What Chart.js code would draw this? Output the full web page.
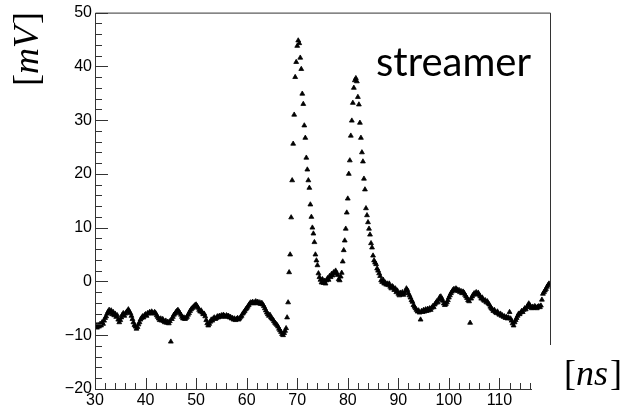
<!DOCTYPE html>
<html>
<head>
<meta charset="utf-8">
<script src="https://cdn.jsdelivr.net/npm/chart.js@4/dist/chart.umd.min.js"></script>
<style>
  html, body { margin: 0; padding: 0; background: #fff; }
  #wrap { width: 624px; height: 411px; position: relative; }
</style>
</head>
<body>
<div id="wrap"><canvas id="myChart" width="624" height="411"></canvas></div>
<script>
const startNs = 30;
const stepNs = 0.2;

const mvBaseline = [
    -7.8, -8.3, -8.6, -8.1, -8.4, -7.9, -8.2, -7.6, -7.9, -7.3,
    -6.8, -6.5, -6.0, -5.6, -5.3, -5.8, -5.4, -6.1, -5.7, -6.3,
    -6.0, -6.6, -6.3, -7.1, -7.6, -7.2, -6.7, -6.2, -5.9, -6.4,
    -6.0, -5.7, -5.5, -5.2, -5.6, -5.9, -6.4, -7.0, -7.6, -8.1,
    -8.4, -8.8, -8.5, -8.0, -7.6, -7.1, -6.8, -6.5, -6.7, -6.3,
    -6.1, -6.4, -5.9, -6.0, -5.7, -5.9, -5.6, -5.8, -6.0, -5.7,
    -5.9, -6.3, -6.6, -6.9, -7.2, -6.9, -7.3, -7.0, -7.4, -7.6,
    -7.3, -7.7, -7.5, -7.8, -7.4, -11.2, -7.0, -6.6, -6.2, -6.0,
    -5.7, -5.5, -5.3, -5.6, -5.9, -6.2, -6.6, -6.9, -6.7, -7.0,
    -6.8, -6.6, -6.2, -5.9, -5.5, -5.2, -5.0, -4.8, -4.6, -4.4,
    -4.3, -4.6, -4.9, -5.3, -5.6, -5.4, -5.8, -6.1, -6.0, -6.5,
    -7.2, -7.8, -8.2, -7.9, -7.5, -7.1, -7.3, -6.9, -6.7, -7.0,
    -6.8, -6.5, -6.7, -6.4, -6.6, -6.3, -6.5, -6.2, -6.4, -6.6,
    -6.3, -6.5, -6.4, -6.7, -6.6, -6.9, -6.8, -7.1, -6.9, -7.2,
    -7.0, -6.8, -7.1, -6.9, -6.6, -6.4, -6.0, -5.8, -5.5, -5.2,
    -5.0, -4.7, -4.4, -4.1, -3.9, -4.0, -3.8, -4.1, -3.9, -3.7,
    -4.0, -3.8, -4.1, -3.9, -4.2, -4.0, -4.3, -4.6, -5.0, -5.4,
    -5.8, -6.1, -6.4, -6.2, -6.7, -6.9, -7.1, -7.4, -7.7, -7.9,
    -8.1, -8.4, -8.8, -9.1, -9.4, -9.8, -10.0, -9.6, -9.2, -8.7
];

const mvFirstPeak = [
    -6.7, -3.9, 1.7, 5.0, 11.9, 18.8, 25.6, 31.0, 38.0, 40.8,
    43.8, 44.8, 44.3, 41.6, 39.5, 34.9, 33.0, 29.0, 26.7, 23.0,
    20.8, 18.8, 17.4, 14.3, 12.0, 10.0, 8.9, 7.3, 5.0, 3.9,
    3.0, 1.5, 0.8, 0.3, -0.2, 0.4, -0.3, 0.1, -0.4, 0.2
];

const mvSecondPeak = [
    0.6, 0.3, 1.0, 0.8, 1.4, 1.1, 1.7, 1.5, 2.0, 1.6,
    1.2, 0.4, 0.2, 0.9, 1.6, 3.7, 5.8, 7.6, 9.8, 12.8,
    15.4, 20.0, 22.5, 27.1, 29.9, 33.2, 36.0, 37.4, 37.8, 37.2,
    34.3, 32.9, 29.5, 26.7, 24.0, 22.3, 19.1, 17.1, 13.6, 12.3,
    11.0, 9.8, 8.7, 7.1, 6.3, 4.8, 3.9, 3.5, 3.2, 2.4,
    2.0, 1.5, 1.0, 0.2, -0.1, 0.3, -0.4, -0.2, -0.6, -0.4
];

const mvTail = [
    -0.7, -0.4, -1.0, -1.3, -0.9, -1.1, -1.6, -1.3, -2.0, -1.7,
    -2.3, -2.6, -2.1, -2.4, -2.0, -2.5, -2.2, -1.8, -1.3, -1.6,
    -2.2, -2.6, -3.0, -3.5, -3.8, -4.4, -4.7, -5.0, -5.3, -5.6,
    -5.4, -5.8, -7.1, -5.5, -5.7, -5.3, -5.6, -5.2, -5.5, -5.1,
    -5.4, -5.0, -5.3, -4.9, -4.6, -4.8, -4.3, -4.0, -3.7, -3.9,
    -3.4, -2.9, -2.8, -3.2, -3.6, -4.1, -4.4, -4.2, -3.9, -3.5,
    -3.0, -2.6, -2.2, -1.9, -1.6, -1.4, -1.7, -1.3, -1.5, -1.8,
    -1.6, -2.0, -1.8, -2.2, -1.9, -2.1, -2.5, -2.8, -3.1, -3.5,
    -3.7, -7.7, -3.2, -2.8, -2.5, -2.2, -2.4, -2.0, -2.3, -2.1,
    -2.5, -2.8, -3.2, -3.0, -3.4, -3.6, -3.5, -3.9, -3.7, -4.1,
    -4.3, -4.7, -5.0, -5.2, -5.5, -5.3, -5.7, -5.9, -5.6, -6.0,
    -6.2, -6.0, -6.4, -6.3, -6.6, -6.5, -6.8, -6.6, -6.9, -6.7,
    -5.7, -6.9, -7.3, -7.8, -8.2, -7.6, -7.2, -6.8, -6.4, -6.0,
    -6.1, -5.8, -5.5, -5.7, -5.3, -5.0, -5.2, -4.8, -4.5, -4.1,
    -4.4, -4.8, -5.0, -4.7, -4.9, -4.6, -4.8, -5.0, -4.7, -4.6,
    -4.8, -4.5, -3.4, -2.3, -2.0, -1.7, -1.4, -1.0, -0.7, -0.4
];

const xTickLabels = [30, 40, 50, 60, 70, 80, 90, 100, 110];
const yTickLabels = [-20, -10, 0, 10, 20, 30, 40, 50];

const mvAll = mvBaseline.concat(mvFirstPeak, mvSecondPeak, mvTail);
const points = mvAll.map((v, i) => ({ x: +(startNs + i * stepNs).toFixed(1), y: v }));

const tickFont = { family: "'Liberation Sans', Arial, sans-serif", size: 16 };

function minusSign(v) {
    return v < 0 ? '\u2212' + Math.abs(v) : String(v);
}

// ROOT style frame: ticks pointing inward, plus the pasted unit labels
const rootFrame = {
    id: 'rootFrame',
    afterDraw(chart) {
        const ctx = chart.ctx;
        const xs = chart.scales.x;
        const ys = chart.scales.y;
        const a = chart.chartArea;
        const cutX = 532, cutY = 345;

        ctx.save();
        ctx.strokeStyle = '#333';
        ctx.lineWidth = 1;
        ctx.beginPath();
        ctx.moveTo(a.left + 0.5, a.bottom);
        ctx.lineTo(a.left + 0.5, a.top + 0.5);
        ctx.lineTo(a.right + 0.5, a.top + 0.5);
        ctx.lineTo(a.right + 0.5, cutY);
        ctx.moveTo(a.left, a.bottom + 0.5);
        ctx.lineTo(cutX, a.bottom + 0.5);

        for (let v = -20; v <= 50; v += 2) {
            const py = Math.round(ys.getPixelForValue(v)) + 0.5;
            const len = v % 10 === 0 ? 13 : 7;
            ctx.moveTo(a.left, py);
            ctx.lineTo(a.left + len, py);
        }
        for (let v = 30; v <= 116; v += 2) {
            const px = Math.round(xs.getPixelForValue(v)) + 0.5;
            const len = v % 10 === 0 ? 11 : 6;
            ctx.moveTo(px, a.bottom);
            ctx.lineTo(px, a.bottom - len);
        }
        ctx.stroke();

        ctx.fillStyle = '#000';
        ctx.textBaseline = 'middle';
        drawUnit(ctx, 'mV', 29, 50, -Math.PI / 2);
        drawUnit(ctx, 'ns', 592, 376, 0);

        ctx.font = "40px Lato, 'Open Sans', sans-serif";
        ctx.textAlign = 'left';
        ctx.textBaseline = 'alphabetic';
        ctx.fillText('streamer', 376, 76);
        ctx.restore();
    }
};

function drawUnit(ctx, unit, cx, cy, angle) {
    const upright = "36px 'Liberation Serif', 'DejaVu Serif', serif";
    const italic = "italic 36px 'Liberation Serif', 'DejaVu Serif', serif";
    ctx.save();
    ctx.translate(cx, cy);
    ctx.rotate(angle);
    ctx.textAlign = 'left';
    ctx.font = upright;
    const wb = ctx.measureText('[').width;
    const we = ctx.measureText(']').width;
    ctx.font = italic;
    const wu = ctx.measureText(unit).width;
    let x = -(wb + wu + we) / 2;
    ctx.font = upright;
    ctx.fillText('[', x, 0);
    x += wb;
    ctx.font = italic;
    ctx.fillText(unit, x, 0);
    x += wu + 2;
    ctx.font = upright;
    ctx.fillText(']', x, 0);
    ctx.restore();
}

const config = {
    type: 'scatter',
    data: {
        datasets: [{
            data: points,
            pointStyle: 'triangle',
            radius: 2.8,
            backgroundColor: '#000',
            borderColor: '#000',
            borderWidth: 0.8
        }]
    },
    options: {
        responsive: false,
        animation: false,
        layout: { padding: { top: 12, right: 74, left: 0, bottom: 0 } },
        plugins: { legend: { display: false }, tooltip: { enabled: false } },
        scales: {
            x: {
                type: 'linear',
                min: 30,
                max: 120,
                border: { display: false },
                grid: { display: false, drawTicks: false },
                afterFit: (s) => { s.height = 22; },
                afterBuildTicks: (s) => { s.ticks = xTickLabels.map(v => ({ value: v })); },
                ticks: {
                    color: '#000',
                    font: tickFont,
                    padding: 2,
                    maxRotation: 0,
                    callback: (v) => String(v)
                }
            },
            y: {
                min: -20,
                max: 50,
                border: { display: false },
                grid: { display: false, drawTicks: false },
                afterFit: (s) => { s.width = 95; },
                afterBuildTicks: (s) => { s.ticks = yTickLabels.map(v => ({ value: v })); },
                ticks: {
                    color: '#000',
                    font: tickFont,
                    padding: 3,
                    callback: (v) => minusSign(v)
                }
            }
        }
    },
    plugins: [rootFrame]
};

const myChart = new Chart(document.getElementById('myChart'), config);
</script>
</body>
</html>
